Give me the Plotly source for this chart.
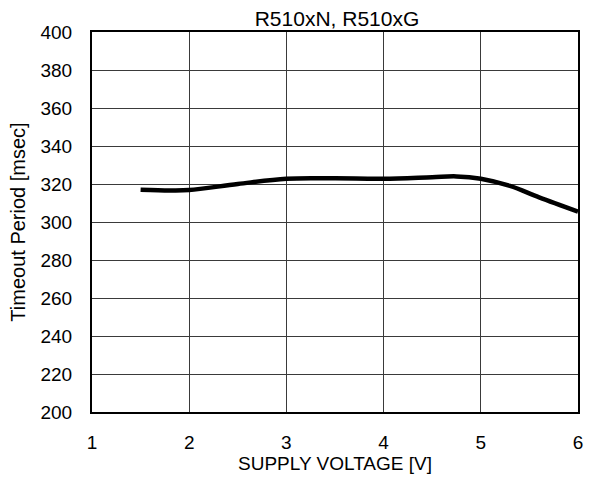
import plotly.graph_objects as go

voltage = [1.5, 1.8, 2.0, 2.5, 3.0, 3.5, 4.0, 4.5, 4.75, 5.0, 5.3, 5.6, 6.0]
timeout = [317.0, 316.6, 316.8, 320.0, 322.8, 323.0, 322.8, 323.6, 324.0, 322.8, 319.0, 313.0, 305.5]

x_ticks = [1, 2, 3, 4, 5, 6]
y_ticks = list(range(200, 401, 20))

fig = go.Figure()
fig.add_trace(go.Scatter(
    x=voltage, y=timeout, mode="lines",
    line=dict(color="black", width=4.5, shape="spline", smoothing=1.0),
    showlegend=False,
))

fam = "Liberation Sans, Arial, sans-serif"
font = dict(family=fam, size=19, color="black")
fig.update_layout(
    width=592, height=484,
    margin=dict(l=92, r=9, t=32, b=72),
    paper_bgcolor="white", plot_bgcolor="white",
    font=font,
    title=dict(text="R510xN, R510xG", x=(337 / 592), xanchor="center",
               y=1 - 19 / 484, yanchor="middle",
               font=dict(family=fam, size=21, color="black")),
    xaxis=dict(range=[1, 6], tickvals=x_ticks, showgrid=True, gridcolor="#3a3a3a", gridwidth=1,
               showline=True, linecolor="black", linewidth=2, mirror=True,
               ticks="", zeroline=False, tickfont=font, ticklabelstandoff=12,
               title=dict(text="SUPPLY VOLTAGE [V]", standoff=0, font=font)),
    yaxis=dict(range=[200, 400], tickvals=y_ticks, showgrid=True, gridcolor="#3a3a3a", gridwidth=1,
               showline=True, linecolor="black", linewidth=2, mirror=True,
               ticks="", zeroline=False, tickfont=font, ticklabelstandoff=14,
               title=dict(text="Timeout Period [msec]", standoff=9,
                          font=dict(family=fam, size=20, color="black"))),
)
fig.write_html("out.html")
